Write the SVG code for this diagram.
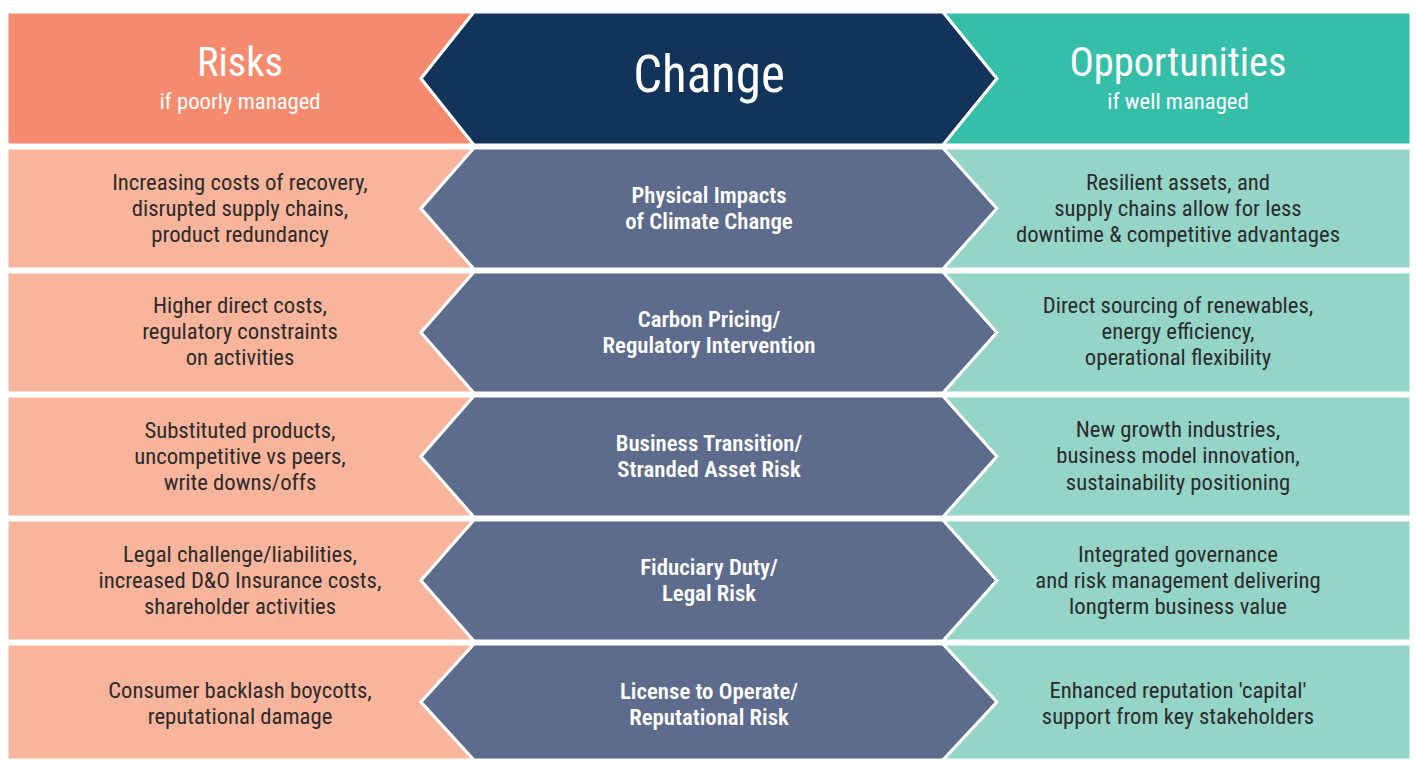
<svg xmlns="http://www.w3.org/2000/svg" width="1416" height="760" viewBox="0 0 1416 760">
<style>
.sep{stroke:#ffffff;stroke-width:3;stroke-linejoin:miter}
.hl{fill:#F58A6E}.hc{fill:#12345A}.hr{fill:#35BFA8}
.rl{fill:#F9B59C}.rc{fill:#5D6B8C}.rr{fill:#95D5C8}
text{font-family:"Liberation Sans Narrow","Roboto Condensed","DejaVu Sans Condensed","Liberation Sans",sans-serif;text-anchor:middle}
.big{font-size:40.5px;fill:#ffffff}
.chg{font-size:51px;fill:#ffffff}
.sub{font-size:22.7px;fill:#ffffff}
.body{font-size:22.7px;fill:#2B2B2B}
.ctr{font-size:22.8px;fill:#ffffff;font-weight:600}
</style>
<rect width="1416" height="760" fill="#ffffff"/>
<g id="header">
<polygon class="hl sep" points="7,12 474,12 421,78.5 474,145 7,145"/>
<polygon class="hc sep" points="474,12 943,12 997,78.5 943,145 474,145 421,78.5"/>
<polygon class="hr sep" points="943,12 1411,12 1411,145 943,145 997,78.5"/>
<text class="big" x="240" y="76">Risks</text>
<text class="sub" x="240" y="109">if poorly managed</text>
<text class="chg" x="709" y="92">Change</text>
<text class="big" x="1178" y="76">Opportunities</text>
<text class="sub" x="1178" y="109">if well managed</text>
</g>
<g id="row1">
<polygon class="rl sep" points="7,148 474,148 421,208.5 474,269 7,269"/>
<polygon class="rc sep" points="474,148 943,148 997,208.5 943,269 474,269 421,208.5"/>
<polygon class="rr sep" points="943,148 1411,148 1411,269 943,269 997,208.5"/>
<text class="body" x="240"><tspan x="240" y="190">Increasing costs of recovery,</tspan><tspan x="240" y="216">disrupted supply chains,</tspan><tspan x="240" y="242">product redundancy</tspan></text>
<text class="ctr" x="709"><tspan x="709" y="203">Physical Impacts</tspan><tspan x="709" y="229">of Climate Change</tspan></text>
<text class="body" x="1178"><tspan x="1178" y="190">Resilient assets, and</tspan><tspan x="1178" y="216">supply chains allow for less</tspan><tspan x="1178" y="242">downtime &amp; competitive advantages</tspan></text>
</g>
<g id="row2">
<polygon class="rl sep" points="7,272 474,272 421,332.5 474,393 7,393"/>
<polygon class="rc sep" points="474,272 943,272 997,332.5 943,393 474,393 421,332.5"/>
<polygon class="rr sep" points="943,272 1411,272 1411,393 943,393 997,332.5"/>
<text class="body" x="240"><tspan x="240" y="313">Higher direct costs,</tspan><tspan x="240" y="339">regulatory constraints</tspan><tspan x="240" y="365">on activities</tspan></text>
<text class="ctr" x="709"><tspan x="709" y="327">Carbon Pricing/</tspan><tspan x="709" y="353">Regulatory Intervention</tspan></text>
<text class="body" x="1178"><tspan x="1178" y="313">Direct sourcing of renewables,</tspan><tspan x="1178" y="339">energy efficiency,</tspan><tspan x="1178" y="365">operational flexibility</tspan></text>
</g>
<g id="row3">
<polygon class="rl sep" points="7,396 474,396 421,456.5 474,517 7,517"/>
<polygon class="rc sep" points="474,396 943,396 997,456.5 943,517 474,517 421,456.5"/>
<polygon class="rr sep" points="943,396 1411,396 1411,517 943,517 997,456.5"/>
<text class="body" x="240"><tspan x="240" y="438">Substituted products,</tspan><tspan x="240" y="464">uncompetitive vs peers,</tspan><tspan x="240" y="490">write downs/offs</tspan></text>
<text class="ctr" x="709"><tspan x="709" y="451">Business Transition/</tspan><tspan x="709" y="477">Stranded Asset Risk</tspan></text>
<text class="body" x="1178"><tspan x="1178" y="437">New growth industries,</tspan><tspan x="1178" y="463">business model innovation,</tspan><tspan x="1178" y="490">sustainability positioning</tspan></text>
</g>
<g id="row4">
<polygon class="rl sep" points="7,520 474,520 421,580.5 474,641 7,641"/>
<polygon class="rc sep" points="474,520 943,520 997,580.5 943,641 474,641 421,580.5"/>
<polygon class="rr sep" points="943,520 1411,520 1411,641 943,641 997,580.5"/>
<text class="body" x="240"><tspan x="240" y="562">Legal challenge/liabilities,</tspan><tspan x="240" y="588">increased D&amp;O Insurance costs,</tspan><tspan x="240" y="614">shareholder activities</tspan></text>
<text class="ctr" x="709"><tspan x="709" y="575">Fiduciary Duty/</tspan><tspan x="709" y="601">Legal Risk</tspan></text>
<text class="body" x="1178"><tspan x="1178" y="562">Integrated governance</tspan><tspan x="1178" y="588">and risk management delivering</tspan><tspan x="1178" y="614">longterm business value</tspan></text>
</g>
<g id="row5">
<polygon class="rl sep" points="7,644 474,644 421,702 474,760 7,760"/>
<polygon class="rc sep" points="474,644 943,644 997,702 943,760 474,760 421,702"/>
<polygon class="rr sep" points="943,644 1411,644 1411,760 943,760 997,702"/>
<text class="body" x="240"><tspan x="240" y="698">Consumer backlash boycotts,</tspan><tspan x="240" y="724">reputational damage</tspan></text>
<text class="ctr" x="709"><tspan x="709" y="699">License to Operate/</tspan><tspan x="709" y="725">Reputational Risk</tspan></text>
<text class="body" x="1178"><tspan x="1178" y="698">Enhanced reputation 'capital'</tspan><tspan x="1178" y="724">support from key stakeholders</tspan></text>
</g>
<g id="connectors"/>
</svg>
